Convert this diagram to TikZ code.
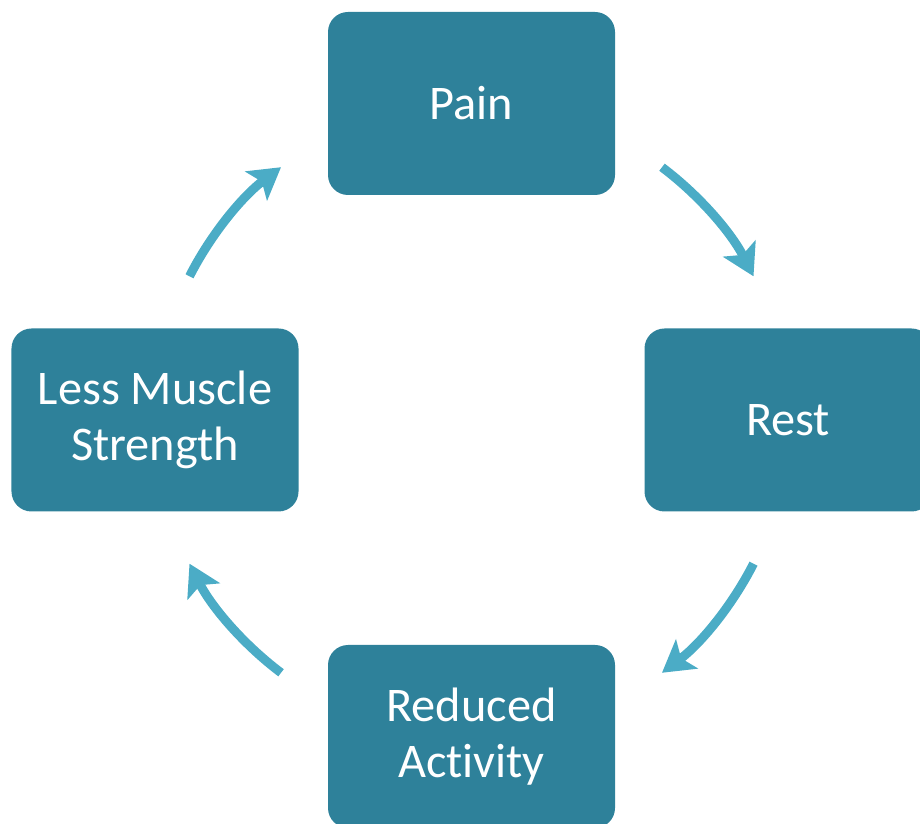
\documentclass[tikz,border=0pt]{standalone}
\usepackage{fontspec}
\setmainfont{Carlito}[Ligatures=NoCommon]
\usepackage{xcolor}
\usepackage{tikz}
\usetikzlibrary{arrows.meta, positioning}
\definecolor{boxteal}{HTML}{2E819A}
\definecolor{arrowblue}{HTML}{4BACC6}
\tikzstyle{stage} = [rectangle, rounded corners=0.4cm, minimum width=5.74cm, minimum height=3.66cm, text centered, align=center, fill=boxteal, text=white, font=\fontsize{27.5}{31.5}\selectfont]
\tikzstyle{cycle} = [line width=0.18cm, draw=arrowblue, -{Stealth[length=0.62cm, width=0.72cm, inset=0.14cm]}]

\begin{document}
\begin{tikzpicture}
    \useasboundingbox (0,0) rectangle (18.4,16.46);
    \clip (0,0) rectangle (18.4,16.46);

    % Centre of the cycle
    \coordinate (hub) at (9.43,8.06);

    % Stages
    \node (pain) [stage] at ([yshift=6.33cm]hub) {Pain};
    \node (rest) [stage] at ([xshift=6.33cm]hub) {Rest};
    \node (reduced) [stage] at ([yshift=-6.33cm]hub) {Reduced\\Activity};
    \node (muscle) [stage] at ([xshift=-6.33cm]hub) {Less Muscle\\Strength};

    % Arrows, arcs round the hub
    \draw [cycle] (hub) ++(53:6.33) arc[start angle=53, end angle=27, radius=6.33cm];
    \draw [cycle] (hub) ++(-27:6.33) arc[start angle=-27, end angle=-53, radius=6.33cm];
    \draw [cycle] (hub) ++(-127:6.33) arc[start angle=-127, end angle=-153, radius=6.33cm];
    \draw [cycle] (hub) ++(153:6.33) arc[start angle=153, end angle=127, radius=6.33cm];
\end{tikzpicture}
\end{document}
